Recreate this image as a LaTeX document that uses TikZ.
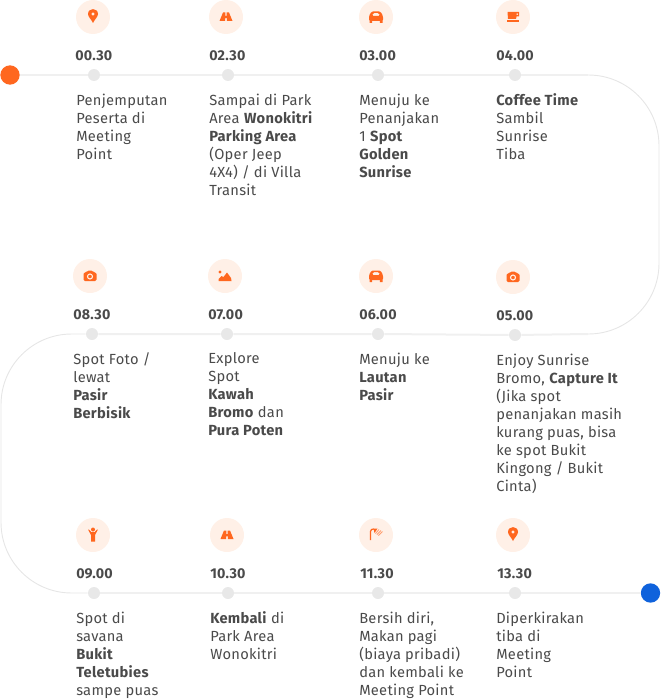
\documentclass[tikz,border=0pt]{standalone}
\usepackage{fontspec}
\setmainfont{Fira Sans}[LetterSpace=2]
\usepackage{tikz}
\usetikzlibrary{positioning}
\definecolor{accent}{HTML}{FF671F}
\definecolor{halo}{HTML}{FFF0E7}
\definecolor{ink}{HTML}{4A4A4A}
\definecolor{track}{HTML}{F0F0F0}
\definecolor{bend}{HTML}{E6E6E6}
\definecolor{knob}{HTML}{E8E8E8}
\definecolor{finish}{HTML}{0F62DC}
\tikzset{
	stopdot/.style={circle, fill=knob, minimum size=9pt, inner sep=0pt},
	halocircle/.style={circle, fill=halo, minimum size=25.5pt, inner sep=0pt},
	enddot/.style={circle, minimum size=14.5pt, inner sep=0pt},
	hourtext/.style={anchor=west, inner sep=0pt, text=ink, font=\fontsize{10.7}{12}\selectfont\bfseries},
	bodytext/.style={anchor=north west, inner sep=0pt, align=left, text=ink, font=\fontsize{11}{13.5}\selectfont},
	trackline/.style={draw=track, line width=1.5pt},
	bendline/.style={draw=bend, line width=0.7pt, rounded corners=53pt},
	pin/.pic={\fill[accent, even odd rule] (0,6) .. controls (-1.5,2.5) and (-5,0) .. (-5,-3) .. controls (-5,-9.5) and (5,-9.5) .. (5,-3) .. controls (5,0) and (1.5,2.5) .. (0,6) -- cycle (0,-3) circle[radius=1.8];},
	road/.pic={\fill[accent] (-6.5,4) -- (-3,-4.5) -- (-.7,-4.5) -- (-.7,-1) -- (.7,-1) -- (.7,-4.5) -- (3,-4.5) -- (6.5,4) -- (.9,4) -- (.7,1) -- (-.7,1) -- (-.9,4) -- cycle;},
	car/.pic={\fill[accent, even odd rule, rounded corners=1pt] (-7,4) -- (-7,-1) -- (-4.5,-5.5) -- (4.5,-5.5) -- (7,-1) -- (7,4) -- cycle (-4,-1) -- (-3,-4) -- (3,-4) -- (4,-1) -- cycle;
		\fill[accent] (-6.5,3) rectangle (-3.8,6) (3.8,3) rectangle (6.5,6);},
	cup/.pic={\fill[accent, even odd rule] (-5.5,-5) -- (6,-5) -- (6,-.5) -- (3.5,-.5) -- (3,2) -- (-5,2) -- cycle (3.7,-3.7) rectangle (4.8,-1.8);
		\fill[accent] (-6,3.5) rectangle (6,5);},
	camera/.pic={\fill[accent, rounded corners=1pt] (-6.5,-3.5) -- (-3.5,-3.5) -- (-2.5,-5.5) -- (2.5,-5.5) -- (3.5,-3.5) -- (6.5,-3.5) -- (6.5,5) -- (-6.5,5) -- cycle;
		\draw[halo, line width=.8pt] (0,.5) circle[radius=2.5];},
	hill/.pic={\fill[accent] (-5,-4) circle[radius=1.6];
		\fill[accent] (-6.5,5) -- (-6.5,3) -- (-3.5,0) -- (-1.5,1) -- (2,-3.5) -- (6,2) -- (6.5,5) -- cycle;},
	man/.pic={\fill[accent] (0,-5.5) circle[radius=2];
		\fill[accent] (-5,-5.5) -- (-4,-5.5) -- (-1.8,-3) -- (1.8,-3) -- (4,-5.5) -- (5,-5.5) -- (2,0) -- (2,6.5) -- (-2,6.5) -- (-2,0) -- cycle;},
	shower/.pic={\draw[accent, line width=.9pt] (-5.5,5) -- (-5.5,-3.5) .. controls (-5.5,-5.5) and (-4,-6) .. (-2,-6);
		\fill[accent] (-2.5,-6.5) -- (1.5,-6.5) -- (-1.5,-2) -- cycle;
		\draw[accent!60!halo, line width=.6pt] (-.5,-1.5) -- (3,-5.5) (1,-.5) -- (5,-4.5) (2.5,.5) -- (6.5,-3.5);}
}
\begin{document}
\begin{tikzpicture}[x=.75pt, y=-.75pt]
	\useasboundingbox (0,0) rectangle (660,699);
	\coordinate (topflat) at (588,75);
	\coordinate (cornerne) at (659,75);
	\coordinate (cornerse) at (659,334);
	\coordinate (midflat) at (588,334);
	\coordinate (cornernw) at (1,334);
	\coordinate (cornersw) at (1,593);

	\node[enddot, fill=accent] (start) at (10,75) {};
	\node[enddot, fill=finish] (finish) at (650.5,593) {};

	% dot, icon and hour of every stop
	\foreach \id/\dotx/\doty/\halox/\haloy/\icon/\hour/\hourx in {
		1/94/75/93/17/pin/00.30/75, 2/228/75/226/17/road/02.30/209, 3/378/75/376/17/car/03.00/359, 4/515/75/513/17/cup/04.00/496,
		5/515/335/513/277/camera/05.00/496, 6/378/334/376/276/car/06.00/359, 7/227/334/225/276/hill/07.00/208, 8/92/334/90/276/camera/08.30/73,
		9/94/593/93/535/man/09.00/76, 10/228/593/227/535/road/10.30/210, 11/378/593/376/535/shower/11.30/360, 12/515/593/513/535/pin/13.30/497}{
		\node[stopdot] (dot\id) at (\dotx,\doty) {};
		\node[halocircle] (halo\id) at (\halox,\haloy) {};
		\pic at (halo\id) {\icon};
		\node[hourtext] (hour\id) at (\hourx,\doty-19) {\hour};
	}

	\node[bodytext] (body1) at (76,93.5) {Penjemputan\\Peserta di\\Meeting\\Point};
	\node[bodytext] (body2) at (209,93.5) {Sampai di Park\\Area \textbf{Wonokitri}\\\textbf{Parking Area}\\(Oper Jeep\\4X4) / di Villa\\Transit};
	\node[bodytext] (body3) at (359,93.5) {Menuju ke\\Penanjakan\\1 \textbf{Spot}\\\textbf{Golden}\\\textbf{Sunrise}};
	\node[bodytext] (body4) at (496,93.5) {\textbf{Coffee Time}\\Sambil\\Sunrise\\Tiba};
	\node[bodytext] (body5) at (496,353.5) {Enjoy Sunrise\\Bromo, \textbf{Capture It}\\(Jika spot\\penanjakan masih\\kurang puas, bisa\\ke spot Bukit\\Kingong / Bukit\\Cinta)};
	\node[bodytext] (body6) at (359,352.5) {Menuju ke\\\textbf{Lautan}\\\textbf{Pasir}};
	\node[bodytext] (body7) at (208,352.5) {Explore\\Spot\\\textbf{Kawah}\\\textbf{Bromo} dan\\\textbf{Pura Poten}};
	\node[bodytext] (body8) at (73,352.5) {Spot Foto /\\lewat\\\textbf{Pasir}\\\textbf{Berbisik}};
	\node[bodytext] (body9) at (76,611.5) {Spot di\\savana\\\textbf{Bukit}\\\textbf{Teletubies}\\sampe puas};
	\node[bodytext] (body10) at (210,611.5) {\textbf{Kembali} di\\Park Area\\Wonokitri};
	\node[bodytext] (body11) at (359,611.5) {Bersih diri,\\Makan pagi\\(biaya pribadi)\\dan kembali ke\\Meeting Point};
	\node[bodytext] (body12) at (496,611.5) {Diperkirakan\\tiba di\\Meeting\\Point};

	\draw[trackline] (start) -- (dot1) (dot1) -- (dot2) (dot2) -- (dot3) (dot3) -- (dot4) (dot4) -- (topflat);
	\draw[trackline] (midflat) -- (dot5) (dot5) -- (dot6) (dot6) -- (dot7) (dot7) -- (dot8);
	\draw[trackline] (dot9) -- (dot10) (dot10) -- (dot11) (dot11) -- (dot12) (dot12) -- (finish);
	\draw[bendline] (topflat) -- (cornerne) -- (cornerse) -- (midflat);
	\draw[bendline] (dot8) -- (cornernw) -- (cornersw) -- (dot9);
\end{tikzpicture}
\end{document}
